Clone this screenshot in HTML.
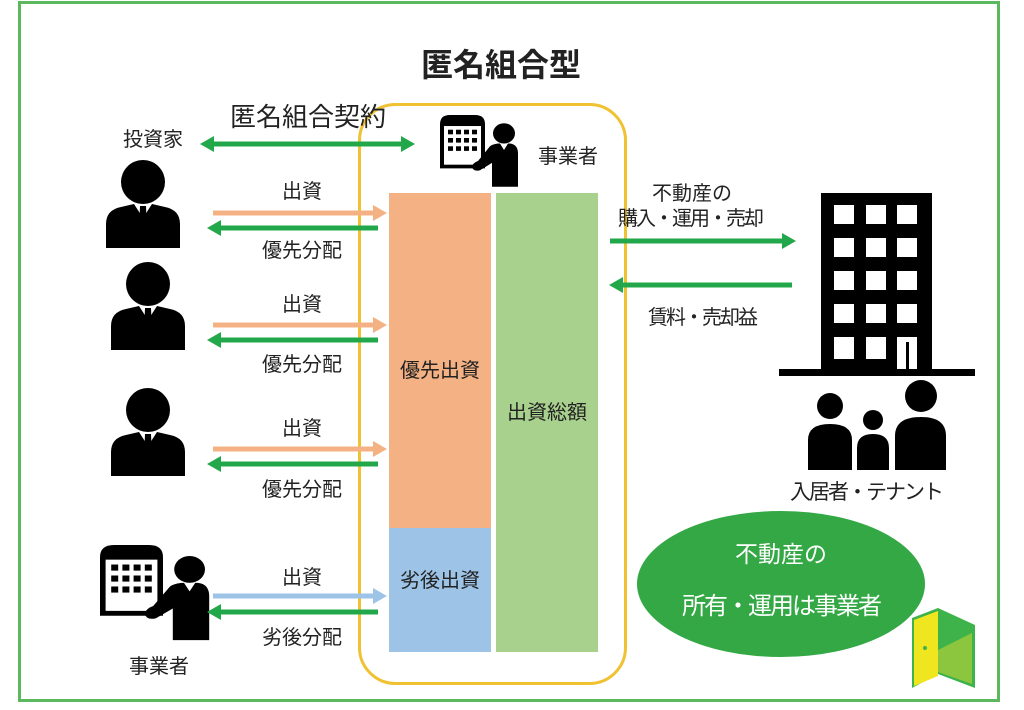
<!DOCTYPE html>
<html><head><meta charset="utf-8"><style>
html,body{margin:0;padding:0;background:#fff;}
svg{display:block;}
text{font-family:"Liberation Sans","Noto Sans CJK JP",sans-serif;fill:#222;}
</style></head><body>
<svg width="1024" height="710" viewBox="0 0 1024 710" xmlns="http://www.w3.org/2000/svg">
<defs>
<g id="person">
 <circle cx="0" cy="-22" r="22" fill="#000"/>
 <path d="M-37,44 L-37,20 Q-37,6 -22,3 L-9,0 L9,0 L22,3 Q37,6 37,20 L37,44 Z" fill="#000"/>
 <path d="M-9,0 L0,14 L9,0 Z" fill="#fff"/>
 <path d="M-3,2 L3,2 L4,28 L0,34 L-4,28 Z" fill="#000"/>
</g>
<g id="biz">
 <path d="M0,10 Q0,0 10,0 L35,0 Q45,0 45,10 L45,58 L0,58 Z" fill="#000"/>
 <rect x="4" y="12" width="37" height="42" fill="#fff"/>
 <g fill="#000">
  <rect x="8" y="16" width="5" height="5"/><rect x="16" y="16" width="5" height="5"/><rect x="24" y="16" width="5" height="5"/><rect x="32" y="16" width="5" height="5"/>
  <rect x="8" y="25" width="5" height="5"/><rect x="16" y="25" width="5" height="5"/><rect x="24" y="25" width="5" height="5"/><rect x="32" y="25" width="5" height="5"/>
  <rect x="8" y="34" width="5" height="5"/><rect x="16" y="34" width="5" height="5"/><rect x="24" y="34" width="5" height="5"/><rect x="32" y="34" width="5" height="5"/>
 </g>
 <circle cx="64" cy="20" r="11" fill="#000"/>
 <path d="M50,34 Q52,32 58,31 L70,31 Q78,32 78,42 L78,78 L52,78 L52,52 L40,60 Q33,62 32,56 Q33,52 38,50 Z" fill="#000"/>
 <path d="M60,31 L64,38 L68,31 Z" fill="#fff"/>
</g>
</defs>

<rect x="19.5" y="2.5" width="979" height="698" fill="none" stroke="#5cb85c" stroke-width="3"/>

<text x="501" y="76" font-size="32" font-weight="bold" text-anchor="middle" fill="#111">匿名組合型</text>

<rect x="359.5" y="104.5" width="266" height="579" rx="36" fill="none" stroke="#f0c232" stroke-width="3"/>

<rect x="389" y="193" width="102" height="335" fill="#f4b183"/>
<rect x="389" y="528" width="102" height="124" fill="#9dc3e6"/>
<rect x="496" y="193" width="102" height="459" fill="#a9d18e"/>
<text x="440" y="377" font-size="20" text-anchor="middle">優先出資</text>
<text x="440" y="587" font-size="20" text-anchor="middle">劣後出資</text>
<text x="547" y="419" font-size="20" text-anchor="middle">出資総額</text>

<text x="308" y="126" font-size="26" text-anchor="middle">匿名組合契約</text>
<text x="153" y="146" font-size="20" text-anchor="middle">投資家</text>
<line x1="212" y1="144" x2="402" y2="144" stroke="#22a84a" stroke-width="5"/>
<polygon points="200,144 214,136 214,152" fill="#22a84a"/>
<polygon points="415,144 401,136 401,152" fill="#22a84a"/>

<use href="#biz" transform="translate(440,115) scale(1.0,0.92)"/>
<text x="568" y="163" font-size="20" text-anchor="middle">事業者</text>

<use href="#person" x="143" y="204"/>
<use href="#person" x="148" y="306"/>
<use href="#person" x="148" y="432"/>
<use href="#biz" transform="translate(100,545) scale(1.4,1.22)"/>
<text x="159" y="673" font-size="20" text-anchor="middle">事業者</text>

<g font-size="20" text-anchor="middle">
<text x="302" y="198">出資</text><text x="302" y="257">優先分配</text>
<text x="302" y="311">出資</text><text x="302" y="371">優先分配</text>
<text x="302" y="435">出資</text><text x="302" y="496">優先分配</text>
<text x="302" y="584">出資</text><text x="302" y="644">劣後分配</text>
</g>
<g>
 <line x1="213" y1="213" x2="374" y2="213" stroke="#f4b183" stroke-width="5"/><polygon points="387,213 373,205 373,221" fill="#f4b183"/>
 <line x1="220" y1="228" x2="378" y2="228" stroke="#22a84a" stroke-width="5"/><polygon points="207,228 221,220 221,236" fill="#22a84a"/>
 <line x1="213" y1="325" x2="374" y2="325" stroke="#f4b183" stroke-width="5"/><polygon points="387,325 373,317 373,333" fill="#f4b183"/>
 <line x1="220" y1="340" x2="378" y2="340" stroke="#22a84a" stroke-width="5"/><polygon points="207,340 221,332 221,348" fill="#22a84a"/>
 <line x1="213" y1="449" x2="374" y2="449" stroke="#f4b183" stroke-width="5"/><polygon points="387,449 373,441 373,457" fill="#f4b183"/>
 <line x1="220" y1="464" x2="378" y2="464" stroke="#22a84a" stroke-width="5"/><polygon points="207,464 221,456 221,472" fill="#22a84a"/>
 <line x1="213" y1="596" x2="374" y2="596" stroke="#9dc3e6" stroke-width="5"/><polygon points="387,596 373,588 373,604" fill="#9dc3e6"/>
 <line x1="220" y1="612" x2="378" y2="612" stroke="#22a84a" stroke-width="5"/><polygon points="207,612 221,604 221,620" fill="#22a84a"/>
</g>

<text x="692" y="200" font-size="20" text-anchor="middle">不動産の</text>
<text x="690" y="225" font-size="20" text-anchor="middle" letter-spacing="-2">購入・運用・売却</text>
<line x1="610" y1="241" x2="782" y2="241" stroke="#22a84a" stroke-width="5"/><polygon points="796,241 782,233 782,249" fill="#22a84a"/>
<line x1="623" y1="285" x2="792" y2="285" stroke="#22a84a" stroke-width="5"/><polygon points="609,285 623,277 623,293" fill="#22a84a"/>
<text x="702" y="324" font-size="20" text-anchor="middle" letter-spacing="-2">賃料・売却益</text>

<rect x="821" y="193" width="111" height="177" fill="#000"/>
<g fill="#fff">
 <rect x="834" y="205" width="20" height="19"/><rect x="866" y="205" width="20" height="19"/><rect x="897" y="205" width="20" height="19"/>
 <rect x="834" y="238" width="20" height="19"/><rect x="866" y="238" width="20" height="19"/><rect x="897" y="238" width="20" height="19"/>
 <rect x="834" y="271" width="20" height="19"/><rect x="866" y="271" width="20" height="19"/><rect x="897" y="271" width="20" height="19"/>
 <rect x="834" y="304" width="20" height="19"/><rect x="866" y="304" width="20" height="19"/><rect x="897" y="304" width="20" height="19"/>
 <rect x="834" y="337" width="20" height="22"/><rect x="866" y="337" width="20" height="22"/><rect x="897" y="337" width="20" height="33"/>
</g>
<rect x="906" y="342" width="3" height="28" fill="#000"/>
<rect x="779" y="369" width="196" height="7" fill="#000"/>

<circle cx="830" cy="406" r="13" fill="#000"/>
<path d="M808,470 L808,440 Q808,424 830,424 Q852,424 852,440 L852,470 Z" fill="#000"/>
<circle cx="873" cy="420" r="10" fill="#000"/>
<path d="M857,470 L857,448 Q857,434 873,434 Q889,434 889,448 L889,470 Z" fill="#000"/>
<circle cx="921" cy="396" r="16" fill="#000"/>
<path d="M895,470 L895,436 Q895,417 921,417 Q946,417 946,436 L946,470 Z" fill="#000"/>
<text x="866" y="499" font-size="21" text-anchor="middle" letter-spacing="-2">入居者・テナント</text>

<ellipse cx="781" cy="584" rx="144" ry="73" fill="#33a844"/>
<text x="781" y="562" font-size="23" text-anchor="middle" style="fill:#fff">不動産の</text>
<text x="781" y="614" font-size="24" text-anchor="middle" letter-spacing="-2" style="fill:#fff">所有・運用は事業者</text>

<polygon points="912,618 938,608 975,625 975,688 938,674 912,688" fill="#3db34a"/>
<polygon points="914,620 938,611 938,676 914,686" fill="#f0e620"/>
<polygon points="938,650 972,633 972,684 938,672" fill="#8cc63f"/>
<circle cx="925" cy="648" r="2" fill="#3db34a"/>
</svg>
</body></html>
